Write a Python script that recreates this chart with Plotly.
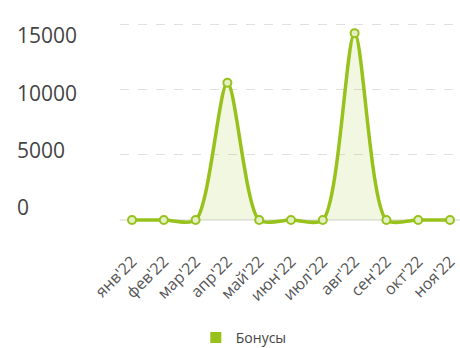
import plotly.graph_objects as go

months = ["янв'22", "фев'22", "мар'22", "апр'22", "май'22", "июн'22",
          "июл'22", "авг'22", "сен'22", "окт'22", "ноя'22"]
bonuses = [0, 0, 0, 10500, 0, 0, 0, 14300, 0, 0, 0]
y_ticks = [0, 5000, 10000, 15000]
series_name = "Бонусы"

GREEN = "#97c21c"
W, H = 460, 348
x_idx = list(range(len(months)))

fig = go.Figure()
fig.add_trace(go.Scatter(
    x=x_idx, y=bonuses, mode="lines+markers",
    line=dict(color=GREEN, width=3.5, shape="spline", smoothing=0.75),
    marker=dict(size=8, color="#e4f0c4", line=dict(color=GREEN, width=2)),
    fill="tozeroy", fillcolor="rgba(151,194,28,0.13)",
    cliponaxis=False, showlegend=False, name=series_name))
fig.add_trace(go.Scatter(
    x=[None], y=[None], mode="markers", name=series_name,
    marker=dict(symbol="square", size=11, color=GREEN)))
# invisible trace carrying the left-aligned label axis
fig.add_trace(go.Scatter(x=[0], y=[0], xaxis="x2", yaxis="y2", mode="markers",
                         marker=dict(opacity=0), showlegend=False, hoverinfo="skip"))

first_px, last_px = 132, 450
px_per = (last_px - first_px) / 10
x0, x1 = 120, 460
ytop, ybot = 20, 232
u = 15000 / 196
u2 = 15000 / 172
fig.update_layout(
    width=W, height=H, margin=dict(l=0, r=0, t=0, b=0, autoexpand=False),
    paper_bgcolor="white", plot_bgcolor="white",
    font=dict(family="Open Sans", color="#444"),
    xaxis=dict(domain=[x0 / W, x1 / W], automargin=False,
               range=[-(first_px - x0) / px_per, 10 + (x1 - last_px) / px_per],
               tickmode="array", tickvals=x_idx, ticktext=months,
               tickangle=-45, tickfont=dict(size=16, color="#555"),
               ticklabeloverflow="allow",
               showgrid=False, zeroline=False, showline=False,
               ticks="outside", ticklen=13, tickcolor="rgba(0,0,0,0)"),
    yaxis=dict(domain=[1 - ybot / H, 1 - ytop / H], automargin=False,
               range=[-(ybot - 220) * u, 15000 + (24 - ytop) * u],
               tickvals=y_ticks, showticklabels=False,
               showgrid=True, gridcolor="#e0e0e0", griddash="dash", gridwidth=1,
               zeroline=True, zerolinecolor="#e8e8e8", zerolinewidth=1.5),
    xaxis2=dict(domain=[14 / W, 100 / W], visible=False, range=[0, 1], automargin=False),
    yaxis2=dict(anchor="x2", domain=[1 - 320 / H, 1.0], automargin=False,
                range=[-(320 - 208) * u2, 15000 + 36 * u2],
                tickvals=y_ticks, ticktext=[str(v) for v in y_ticks],
                ticklabelposition="inside", tickfont=dict(size=21, color="#444"),
                showgrid=False, zeroline=False, showline=False, ticks=""),
    legend=dict(orientation="h", x=0.53, xanchor="center", y=1 - 338 / H,
                yanchor="middle", font=dict(size=14, color="#444")),
)
fig.write_html("out.html")
